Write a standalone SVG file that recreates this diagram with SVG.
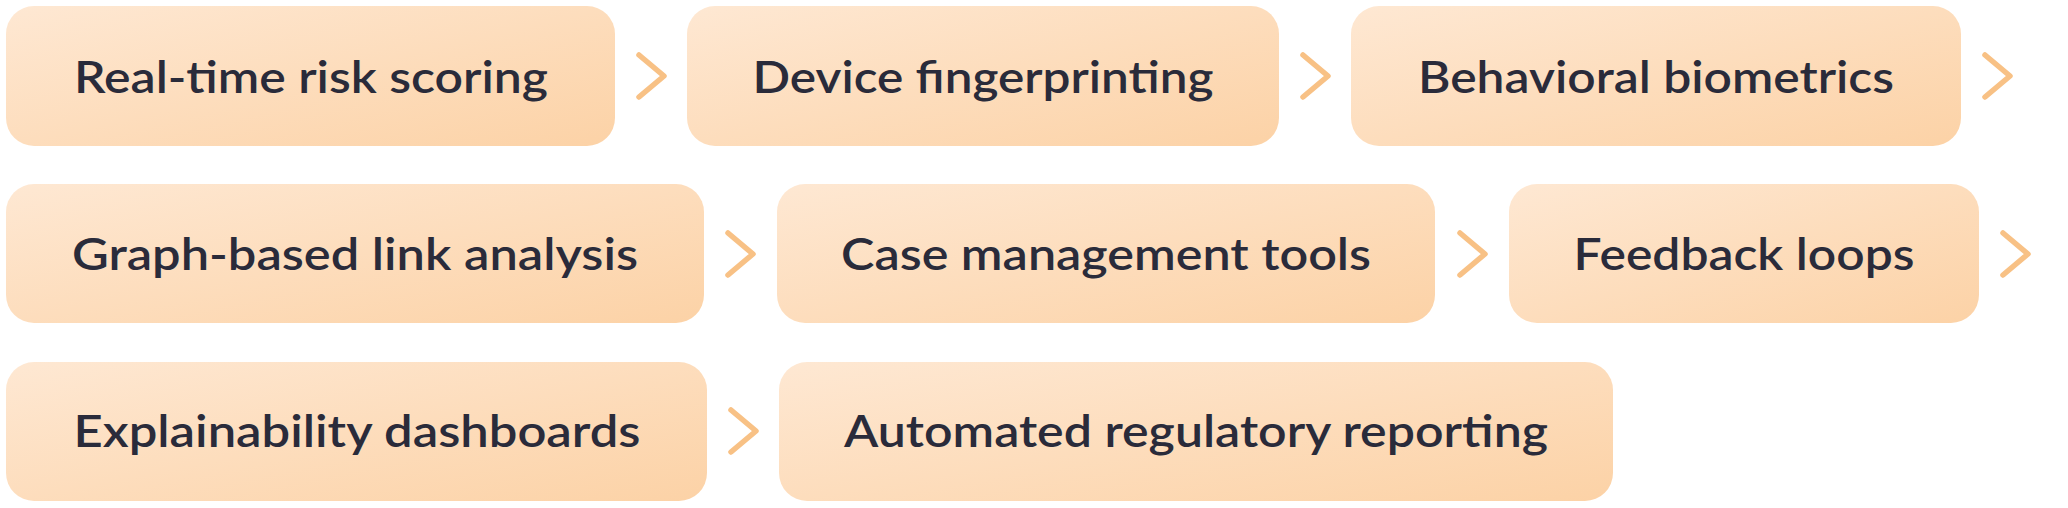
<svg xmlns="http://www.w3.org/2000/svg" width="2068" height="508" viewBox="0 0 2068 508">
  <defs>
    <linearGradient id="boxGrad" x1="0" y1="0" x2="1" y2="1">
      <stop offset="0" stop-color="#FEE8D3"/>
      <stop offset="1" stop-color="#FCD2A6"/>
    </linearGradient>
  </defs>
  <style>
    .box { fill: url(#boxGrad); }
    .label { font-family: "Lato", "Liberation Sans", sans-serif; font-weight: 600; font-size: 44px; fill: #2A2B3A; text-anchor: middle; }
    .chev { fill: none; stroke: #F8C185; stroke-width: 5.5; stroke-linecap: round; stroke-linejoin: round; }
  </style>
  <rect width="2068" height="508" fill="#FFFFFF"/>

  <g id="node-realtime-risk-scoring">
    <rect class="box" x="6" y="6" width="609" height="140" rx="28"/>
    <text class="label" x="311" y="93" textLength="474" lengthAdjust="spacingAndGlyphs">Real-time risk scoring</text>
  </g>
  <g id="node-device-fingerprinting">
    <rect class="box" x="687" y="6" width="592" height="140" rx="28"/>
    <text class="label" x="983" y="93" textLength="461" lengthAdjust="spacingAndGlyphs">Device fingerprinting</text>
  </g>
  <g id="node-behavioral-biometrics">
    <rect class="box" x="1351" y="6" width="610" height="140" rx="28"/>
    <text class="label" x="1656" y="93" textLength="476" lengthAdjust="spacingAndGlyphs">Behavioral biometrics</text>
  </g>

  <g id="node-graph-link-analysis">
    <rect class="box" x="6" y="184" width="698" height="139" rx="28"/>
    <text class="label" x="355" y="270" textLength="566" lengthAdjust="spacingAndGlyphs">Graph-based link analysis</text>
  </g>
  <g id="node-case-management">
    <rect class="box" x="777" y="184" width="658" height="139" rx="28"/>
    <text class="label" x="1106" y="270" textLength="530" lengthAdjust="spacingAndGlyphs">Case management tools</text>
  </g>
  <g id="node-feedback-loops">
    <rect class="box" x="1509" y="184" width="470" height="139" rx="28"/>
    <text class="label" x="1744" y="270" textLength="341" lengthAdjust="spacingAndGlyphs">Feedback loops</text>
  </g>

  <g id="node-explainability-dashboards">
    <rect class="box" x="6" y="362" width="701" height="139" rx="28"/>
    <text class="label" x="357" y="447" textLength="567" lengthAdjust="spacingAndGlyphs">Explainability dashboards</text>
  </g>
  <g id="node-automated-regulatory-reporting">
    <rect class="box" x="779" y="362" width="834" height="139" rx="28"/>
    <text class="label" x="1196" y="447" textLength="704" lengthAdjust="spacingAndGlyphs">Automated regulatory reporting</text>
  </g>

  <g id="connectors">
    <polyline class="chev" points="639,55 664,76 639,97"/>
    <polyline class="chev" points="1303,55 1328,76 1303,97"/>
    <polyline class="chev" points="1985,55 2010,76 1985,97"/>
    <polyline class="chev" points="728,233 753,254 728,275"/>
    <polyline class="chev" points="1460,233 1485,254 1460,275"/>
    <polyline class="chev" points="2003,233 2028,254 2003,275"/>
    <polyline class="chev" points="731,410 756,431 731,452"/>
  </g>
</svg>
